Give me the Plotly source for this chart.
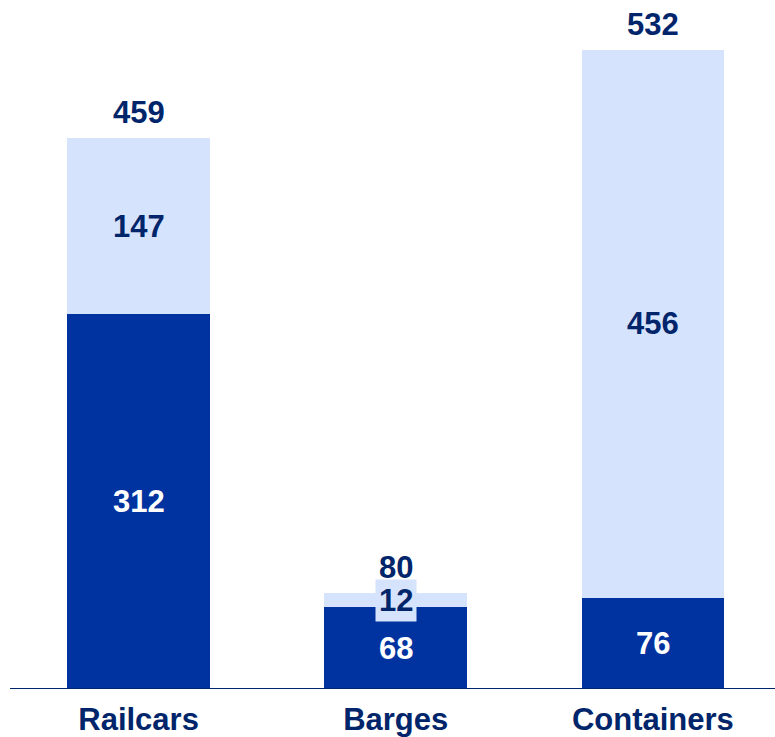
import plotly.graph_objects as go

categories = ["Railcars", "Barges", "Containers"]
lower_values = [312, 68, 76]
upper_values = [147, 12, 456]
totals = [a + b for a, b in zip(lower_values, upper_values)]

DARK = "#0033A0"
LIGHT = "#D6E3FC"
NAVY = "#00256B"
FONT = "Liberation Sans, Arial, sans-serif"
SIZE = 31

fig = go.Figure()
fig.add_bar(x=categories, y=lower_values, marker=dict(color=DARK, line=dict(width=0)),
            width=0.555, hoverinfo="skip")
fig.add_bar(x=categories, y=upper_values, marker=dict(color=LIGHT, line=dict(width=0)),
            width=0.555, hoverinfo="skip")

annotations = []
for cat, lo, up, tot in zip(categories, lower_values, upper_values, totals):
    # lower segment label (white on dark)
    annotations.append(dict(x=cat, y=lo / 2, text=f"<b>{lo}</b>", showarrow=False,
                            font=dict(size=SIZE, color="white", family=FONT),
                            xanchor="center", yanchor="middle"))
    # upper segment label, small segment gets a light box
    small = up < 40
    annotations.append(dict(x=cat, y=lo + up / 2, text=f"<b>{up}</b>", showarrow=False,
                            font=dict(size=SIZE, color=NAVY, family=FONT),
                            bgcolor=LIGHT if small else None, borderpad=3,
                            xanchor="center", yanchor="middle"))
    # total above bar
    annotations.append(dict(x=cat, y=tot, text=f"<b>{tot}</b>", showarrow=False,
                            font=dict(size=SIZE, color=NAVY, family=FONT),
                            xanchor="center", yanchor="bottom", yshift=6))

fig.update_layout(
    barmode="stack",
    width=775, height=737,
    margin=dict(l=10, r=0, t=0, b=48),
    paper_bgcolor="white", plot_bgcolor="white",
    showlegend=False,
    annotations=annotations,
    xaxis=dict(range=[-0.5, 2.475], showgrid=False, zeroline=False,
               showline=False, ticks="", automargin=False, ticklabelstandoff=9,
               tickprefix="<b>", ticksuffix="</b>",
               tickfont=dict(size=SIZE, color=NAVY, family=FONT)),
    yaxis=dict(range=[0, 573.7], visible=False),
    shapes=[dict(type="line", xref="paper", yref="y", x0=0, x1=1, y0=0, y1=0,
                 line=dict(color=NAVY, width=2))],
    font=dict(family=FONT),
)

fig.write_html("out.html", config={"displayModeBar": False},
               post_script="document.body.style.margin='0';")
